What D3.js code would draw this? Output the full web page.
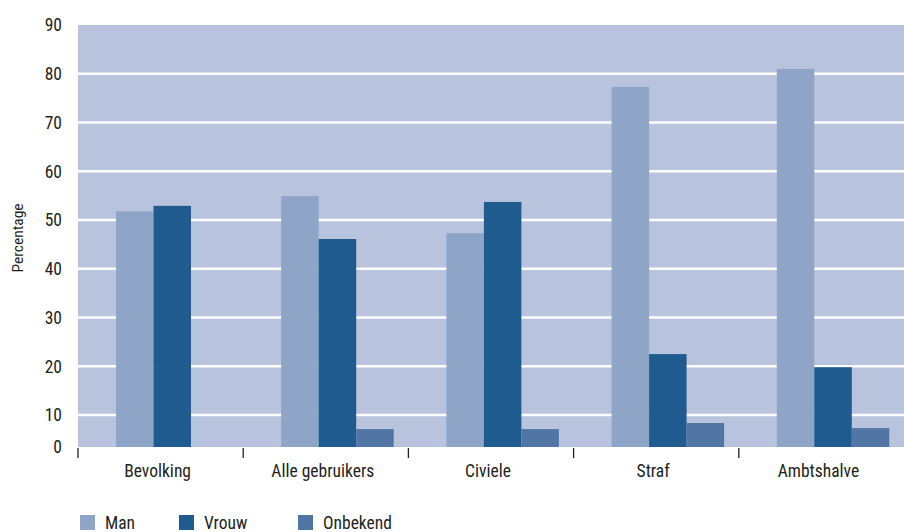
<!DOCTYPE html>
<html>
<head>
<meta charset="utf-8">
<script src="https://cdn.jsdelivr.net/npm/d3@7"></script>
<style>
  html, body { margin: 0; padding: 0; background: #fff; }
  svg { display: block; }
  text { font-family: "Liberation Sans Narrow", "Arial Narrow", "Roboto Condensed", "Liberation Sans", sans-serif; fill: #231f20; }
</style>
</head>
<body>
<svg id="chart" width="904" height="532"></svg>
<script>
const categories = ["Bevolking", "Alle gebruikers", "Civiele", "Straf", "Ambtshalve"];
const seriesNames = ["Man", "Vrouw", "Onbekend"];
const manValues = [51.8, 54.9, 47.3, 77.3, 81.0];
const vrouwValues = [52.9, 46.1, 53.7, 22.5, 19.8];
const onbekendValues = [null, 5.6, 5.6, 7.5, 5.9];
const yTicks = [0, 10, 20, 30, 40, 50, 60, 70, 80, 90];
const colors = ["#8fa5c7", "#1f5b8e", "#5176a5"];

const seriesValues = [manValues, vrouwValues, onbekendValues];
const svg = d3.select("#chart");

const plot = { left: 78, right: 904, top: 25, bottom: 447 };

const x = d3.scaleBand().domain(categories).range([plot.left, plot.right]).padding(0);
const bw = x.bandwidth();
const x1 = d3.scaleBand().domain(seriesNames).range([bw * 0.23, bw * 0.911]).padding(0);
const y = d3.scaleLinear().domain([0, 10, 90]).range([plot.bottom, 415, plot.top]);

// background
svg.append("rect")
  .attr("x", plot.left).attr("y", y(90))
  .attr("width", plot.right - plot.left).attr("height", y(0) - y(90))
  .attr("fill", "#b8c4dd");

// gridlines
svg.append("g").selectAll("line")
  .data(yTicks.filter(d => d > 0 && d < 90))
  .join("line")
  .attr("x1", plot.left).attr("x2", plot.right)
  .attr("y1", d => y(d)).attr("y2", d => y(d))
  .attr("stroke", "#ffffff").attr("stroke-width", 2.5);

// bars
const rows = [];
categories.forEach((c, i) => {
  seriesNames.forEach((s, j) => {
    const v = seriesValues[j][i];
    if (v != null) rows.push({ c, s, v, color: colors[j] });
  });
});
svg.append("g").selectAll("rect")
  .data(rows)
  .join("rect")
  .attr("x", d => x(d.c) + x1(d.s))
  .attr("width", x1.bandwidth())
  .attr("y", d => y(d.v))
  .attr("height", d => y(0) - y(d.v))
  .attr("fill", d => d.color);

// y axis labels
svg.append("g").selectAll("text")
  .data(yTicks)
  .join("text")
  .attr("x", 62)
  .attr("y", d => y(d))
  .attr("dy", "0.36em")
  .attr("text-anchor", "end")
  .attr("font-size", 17.5)
  .text(d => d);

// y axis title
svg.append("text")
  .attr("transform", `translate(23,${(plot.top + plot.bottom) / 2 + 2}) rotate(-90)`)
  .attr("text-anchor", "middle")
  .attr("font-size", 15.5)
  .text("Percentage");

// x axis ticks at category boundaries
svg.append("g").selectAll("line")
  .data(categories)
  .join("line")
  .attr("x1", d => x(d)).attr("x2", d => x(d))
  .attr("y1", plot.bottom + 1).attr("y2", plot.bottom + 11)
  .attr("stroke", "#231f20").attr("stroke-width", 1.3);

// x axis labels
svg.append("g").selectAll("text")
  .data(categories)
  .join("text")
  .attr("x", d => x(d) + bw * 0.5 - 3)
  .attr("y", 477)
  .attr("text-anchor", "middle")
  .attr("font-size", 17.5)
  .text(d => d);

// legend
const legendX = [80, 179, 298];
const lg = svg.append("g").selectAll("g")
  .data(seriesNames)
  .join("g")
  .attr("transform", (d, i) => `translate(${legendX[i]},515)`);
lg.append("rect").attr("width", 15).attr("height", 15).attr("fill", (d, i) => colors[i]);
lg.append("text").attr("x", 25).attr("y", 14).attr("font-size", 17.5).text(d => d);
</script>
</body>
</html>
